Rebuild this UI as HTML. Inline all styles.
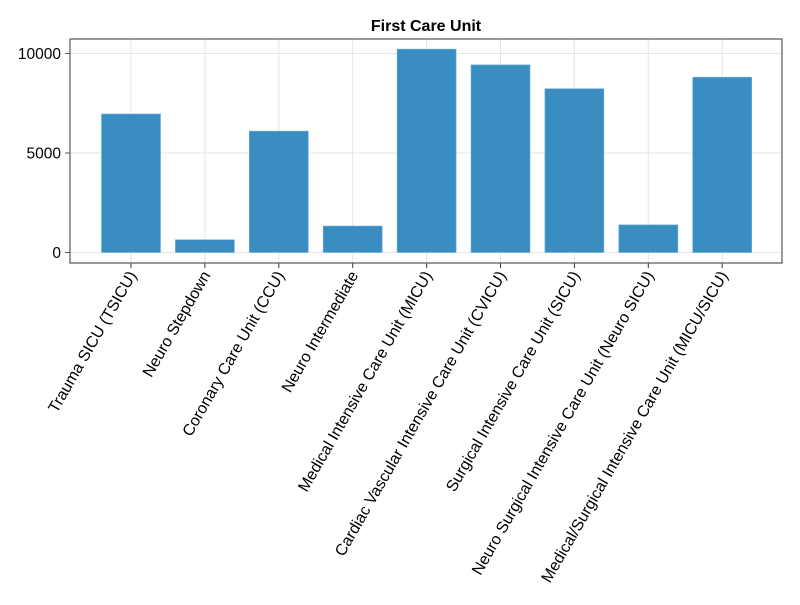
<!DOCTYPE html>
<html><head><meta charset="utf-8"><style>body{margin:0;background:#fff}svg{font-family:"Liberation Sans",sans-serif}</style></head>
<body>
<svg id="chart" width="800" height="600">
<text x="426" y="31" text-anchor="middle" font-size="16" font-weight="bold">First Care Unit</text>
<g id="grid"></g><g id="bars"></g><g id="axes"></g>
</svg>
<script>
const categories = ["Trauma SICU (TSICU)","Neuro Stepdown","Coronary Care Unit (CCU)","Neuro Intermediate","Medical Intensive Care Unit (MICU)","Cardiac Vascular Intensive Care Unit (CVICU)","Surgical Intensive Care Unit (SICU)","Neuro Surgical Intensive Care Unit (Neuro SICU)","Medical/Surgical Intensive Care Unit (MICU/SICU)"];
const values = [6960, 640, 6100, 1330, 10220, 9430, 8230, 1390, 8810];
const yTicks = [0, 5000, 10000];
const NS="http://www.w3.org/2000/svg";
const L=70,R=782,T=39,B=263;
function xs(i){return 131+(i)*73.9;}
function ys(v){return 252.5-v*0.0199;}
function mk(t,a,p){const e=document.createElementNS(NS,t);for(const k in a)e.setAttribute(k,a[k]);p.appendChild(e);return e;}
const grid=document.getElementById('grid'),bars=document.getElementById('bars'),axes=document.getElementById('axes');
yTicks.forEach(v=>{
  const g=mk('line',{x1:L,x2:R,y1:ys(v),y2:ys(v),stroke:'#e6e6e6','stroke-width':1},grid);
  
  
  const tk=mk('line',{x1:L-5,x2:L,y1:ys(v),y2:ys(v),stroke:'#555'},axes);
  
  
  const t=mk('text',{x:L-9,y:ys(v)+5.5,'text-anchor':'end','font-size':15.5},axes);
  t.textContent=v;
  
  
});
categories.forEach((c,i)=>{
  const x=xs(i);
  const g=mk('line',{x1:x,x2:x,y1:T,y2:B,stroke:'#e6e6e6'},grid);
  
  
  const b=mk('rect',{x:x-29.5,y:ys(values[i]),width:59,height:ys(0)-ys(values[i]),fill:'#3a8dc1',stroke:'#6fb0da','stroke-width':0.6},bars);
  
  
  const tk=mk('line',{x1:x,x2:x,y1:B,y2:B+5,stroke:'#333'},axes);
  
  
  const t=mk('text',{x:x+6,y:B+12,'text-anchor':'end','font-size':16,transform:`rotate(-60 ${x+6} ${B+12})`},axes);
  t.textContent=c;
  
  
});
const f=mk('rect',{x:L,y:T,width:R-L,height:B-T,fill:'none',stroke:'#555','stroke-width':1.2},axes);


</script>
</body></html>
